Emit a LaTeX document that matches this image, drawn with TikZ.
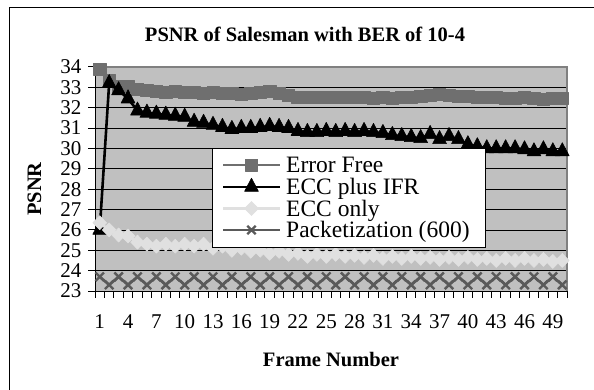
\documentclass[tikz,border=0pt]{standalone}
\usepackage{fontspec}
\setmainfont{Liberation Serif}
\usetikzlibrary{plotmarks}

\definecolor{plotbg}{HTML}{C0C0C0}
\definecolor{plotedge}{HTML}{808080}
\definecolor{efcol}{HTML}{6F6F6F}
\definecolor{eocol}{HTML}{E0E0E0}
\definecolor{pkcol}{HTML}{5A5A5A}

\tikzset{
  serie/.style={line width=2.6pt, line join=round},
  efserie/.style={serie, draw=efcol, mark=square*, mark size=6.2pt,
    mark options={fill=efcol, draw=efcol, line width=0.6pt, solid}},
  ifrserie/.style={serie, draw=black, mark=triangle*, mark size=8pt,
    mark options={fill=black, draw=black, line width=0.6pt, solid, yscale=1.1}},
  eoserie/.style={serie, draw=eocol, mark=diamond*, mark size=7pt,
    mark options={fill=eocol, draw=eocol, line width=0.6pt, solid, xscale=1.3}},
  pkserie/.style={serie, draw=pkcol, mark=x, mark size=6pt,
    mark options={draw=pkcol, line width=2.4pt, solid}},
  ticklabel/.style={inner sep=0pt, font=\fontsize{21}{21}\selectfont},
  legendtext/.style={inner sep=0pt, anchor=base west, font=\fontsize{23.5}{24}\selectfont},
  boldtitle/.style={inner sep=0pt, font=\fontsize{20.5}{21}\selectfont\bfseries},
}

\begin{document}
\begin{tikzpicture}[x=1pt,y=1pt]
\useasboundingbox (0,0) rectangle (594,389);
\fill[white] (0,0) rectangle (594,389);

% chart frame (only its top and left edges fall inside the page)
\begin{scope}
  \clip (0,0) rectangle (594,389);
  \draw[black, line width=1pt] (9,-20) rectangle (620,381);
\end{scope}

% title
\node[boldtitle] (title) at (305,355) {PSNR of Salesman with BER of 10-4};

% plot area
\fill[plotbg] (95,98) rectangle (567,322);
\foreach \v in {24,...,33}
  \draw[black, line width=0.8pt] (95,{98+(\v-23)*20.3636}) -- (567,{98+(\v-23)*20.3636});
\draw[plotedge, line width=1.5pt] (95,322) -- (567,322) -- (567,98);

% axes and ticks
\draw[black, line width=1pt] (95,322) -- (95,98) -- (567,98);
\foreach \v in {23,...,34} {
  \draw[black, line width=1pt] (88,{98+(\v-23)*20.3636}) -- (95,{98+(\v-23)*20.3636});
  \node[ticklabel, anchor=east] (yt\v) at (81.5,{98+(\v-23)*20.3636}) {\v};
}
\foreach \k in {0,...,50}
  \draw[black, line width=1pt] ({95+\k*9.44},98) -- ({95+\k*9.44},91);
\foreach \i in {1,4,...,49}
  \node[ticklabel] (xt\i) at ({95+(\i-0.5)*9.44},67) {\i};

% axis titles
\node[boldtitle] (xlab) at (331,29) {Frame Number};
\node[boldtitle, rotate=90] (ylab) at (34.5,200) {PSNR};

% data series: frame number against PSNR
\begin{scope}[shift={(90.28pt,-370.36pt)}, x=9.44pt, y=20.3636pt]
\draw[efserie] plot coordinates {
 (1,33.9) (2,33.35) (3,33.05) (4,33.05) (5,32.9) (6,32.85) (7,32.8) (8,32.75)
 (9,32.8) (10,32.75) (11,32.75) (12,32.7) (13,32.75) (14,32.7) (15,32.7)
 (16,32.65) (17,32.7) (18,32.75) (19,32.8) (20,32.7) (21,32.6) (22,32.5)
 (23,32.5) (24,32.5) (25,32.5) (26,32.5) (27,32.5) (28,32.5) (29,32.5)
 (30,32.45) (31,32.5) (32,32.45) (33,32.5) (34,32.5) (35,32.55) (36,32.6)
 (37,32.65) (38,32.6) (39,32.55) (40,32.55) (41,32.5) (42,32.5) (43,32.5)
 (44,32.45) (45,32.45) (46,32.5) (47,32.45) (48,32.4) (49,32.45) (50,32.45)};
\draw[ifrserie] plot coordinates {
 (1,26.0) (2,33.2) (3,32.85) (4,32.45) (5,31.85) (6,31.75) (7,31.7) (8,31.65)
 (9,31.6) (10,31.55) (11,31.3) (12,31.25) (13,31.15) (14,31.05) (15,30.95)
 (16,31.0) (17,31.0) (18,31.05) (19,31.1) (20,31.05) (21,31.0) (22,30.85)
 (23,30.8) (24,30.8) (25,30.85) (26,30.8) (27,30.85) (28,30.8) (29,30.85)
 (30,30.8) (31,30.75) (32,30.65) (33,30.6) (34,30.55) (35,30.5) (36,30.7)
 (37,30.45) (38,30.6) (39,30.45) (40,30.2) (41,30.1) (42,30.0) (43,30.0)
 (44,30.0) (45,30.0) (46,29.95) (47,29.85) (48,29.95) (49,29.85) (50,29.85)};
\draw[eoserie] plot coordinates {
 (1,26.35) (2,26.0) (3,25.75) (4,25.7) (5,25.4) (6,25.3) (7,25.2) (8,25.3)
 (9,25.2) (10,25.3) (11,25.2) (12,25.3) (13,25.1) (14,25.2) (15,25.0)
 (16,25.1) (17,24.95) (18,25.0) (19,24.85) (20,24.95) (21,24.8) (22,24.85)
 (23,24.7) (24,24.8) (25,24.7) (26,24.8) (27,24.7) (28,24.75) (29,24.65)
 (30,24.75) (31,24.6) (32,24.7) (33,24.6) (34,24.7) (35,24.6) (36,24.65)
 (37,24.55) (38,24.65) (39,24.55) (40,24.65) (41,24.55) (42,24.6) (43,24.5)
 (44,24.6) (45,24.5) (46,24.6) (47,24.5) (48,24.55) (49,24.45) (50,24.5)};
\draw[pkserie] plot coordinates {
 (1,23.7) (2,23.3) (3,23.7) (4,23.3) (5,23.7) (6,23.3) (7,23.7) (8,23.3)
 (9,23.7) (10,23.3) (11,23.7) (12,23.3) (13,23.7) (14,23.3) (15,23.7)
 (16,23.3) (17,23.7) (18,23.3) (19,23.7) (20,23.3) (21,23.7) (22,23.3)
 (23,23.7) (24,23.3) (25,23.7) (26,23.3) (27,23.7) (28,23.3) (29,23.7)
 (30,23.3) (31,23.7) (32,23.3) (33,23.7) (34,23.3) (35,23.7) (36,23.3)
 (37,23.7) (38,23.3) (39,23.7) (40,23.3) (41,23.7) (42,23.3) (43,23.7)
 (44,23.3) (45,23.7) (46,23.3) (47,23.7) (48,23.3) (49,23.7) (50,23.3)};
\end{scope}

% legend: box, sample lines with one marker each, and labels
\draw[black, line width=0.8pt, fill=white] (212,142) rectangle (485,241);
\coordinate (l1a) at (223,224); \coordinate (l1b) at (280,224); \coordinate (l1m) at (251.5,224);
\coordinate (l2a) at (223,202); \coordinate (l2b) at (280,202); \coordinate (l2m) at (251.5,202);
\coordinate (l3a) at (223,180.5); \coordinate (l3b) at (280,180.5); \coordinate (l3m) at (251.5,180.5);
\coordinate (l4a) at (223,159); \coordinate (l4b) at (280,159); \coordinate (l4m) at (251.5,159);
\draw[serie, draw=efcol] (l1a) -- (l1b);
\draw[serie, draw=black] (l2a) -- (l2b);
\draw[serie, draw=eocol] (l3a) -- (l3b);
\draw[serie, draw=pkcol] (l4a) -- (l4b);
\draw[efserie] plot coordinates {(l1m)};
\draw[ifrserie] plot coordinates {(l2m)};
\draw[eoserie] plot coordinates {(l3m)};
\draw[pkserie] plot coordinates {(l4m)};
\node[legendtext] (lg1) at (286,216.5) {Error Free};
\node[legendtext] (lg2) at (286,194.5) {ECC plus IFR};
\node[legendtext] (lg3) at (286,173) {ECC only};
\node[legendtext] (lg4) at (286,151.5) {Packetization (600)};
\end{tikzpicture}
\end{document}
